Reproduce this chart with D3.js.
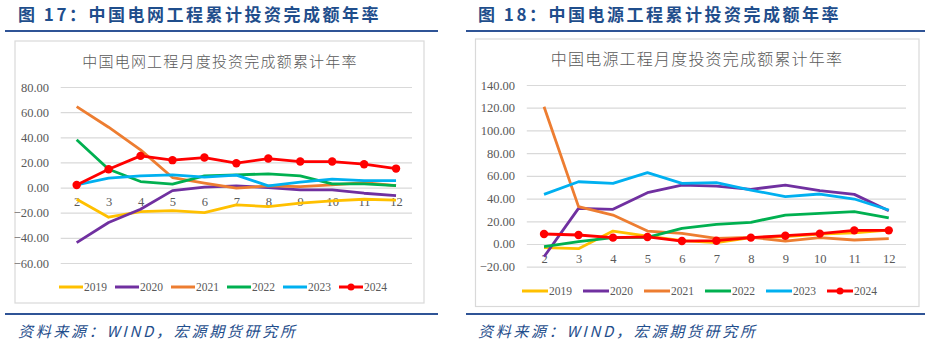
<!DOCTYPE html>
<html><head><meta charset="utf-8">
<script src="https://cdn.jsdelivr.net/npm/d3@7"></script>
<style>
html,body{margin:0;padding:0;background:#fff;}
svg{display:block;}
</style></head>
<body>
<script>
const months = [2,3,4,5,6,7,8,9,10,11,12];
const years = ["2019","2020","2021","2022","2023","2024"];
const colors = ["#FFC000","#7030A0","#ED7D31","#00B050","#00B0F0","#FF0000"];

// Figure 17: grid investment cumulative YoY
const grid2019 = [-9.3,-23.6,-19.1,-18.3,-19.9,-13.8,-15.1,-12.4,-10.6,-9.3,-10.0];
const grid2020 = [-43.8,-27.8,-17.2,-2.4,0.3,1.3,0.0,-1.8,-1.8,-4.5,-6.4];
const grid2021 = [64.4,48.0,30.0,8.0,3.5,-0.5,1.3,0.8,2.1,4.0,1.6];
const grid2022 = [38.0,14.6,4.8,2.7,9.3,10.1,10.9,9.3,2.9,2.9,1.6];
const grid2023 = [2.1,7.5,9.3,10.1,8.3,9.9,1.3,4.3,6.7,5.6,5.6];
const grid2024 = [2.1,14.6,25.2,21.8,23.9,19.4,23.1,20.7,20.7,18.6,15.1];
const gridTicks = [-60,-40,-20,0,20,40,60,80];

// Figure 18: power source investment cumulative YoY
const power2019 = [-3.2,-4.1,11.4,7.0,2.9,1.2,5.6,6.5,8.8,9.7,12.3];
const power2020 = [-11.2,31.4,30.5,45.2,51.9,51.0,48.1,51.9,46.9,43.7,29.3];
const power2021 = [120.9,32.9,25.5,11.4,9.4,5.0,5.9,2.6,5.6,3.5,4.7];
const power2022 = [-2.3,2.0,5.6,5.9,13.8,17.3,19.1,25.5,27.0,28.5,22.9];
const power2023 = [43.7,54.8,53.4,62.8,53.4,54.0,47.5,41.7,44.0,39.6,29.9];
const power2024 = [8.8,7.9,5.6,6.2,2.6,2.9,5.6,7.3,9.1,12.0,12.0];
const powerTicks = [-20,0,20,40,60,80,100,120,140];

const figTitles = ["图 17：中国电网工程累计投资完成额年率","图 18：中国电源工程累计投资完成额年率"];
const chartTitles = ["中国电网工程月度投资完成额累计年率","中国电源工程月度投资完成额累计年率"];
const sourceText = "资料来源：WIND，宏源期货研究所";

const svg = d3.select("body").append("svg").attr("width",929).attr("height",345);

const panels = [
  {series:[grid2019,grid2020,grid2021,grid2022,grid2023,grid2024], ticks:gridTicks,
   titleX:18, lineX:[5,438], box:[15,41,409,262], plotX:[60.7,412], plotY:[263,87],
   axisRight:49, chartTitle:[220,67,15], legendX:59, legendStep:56, legendLen:24, legendY:287},
  {series:[power2019,power2020,power2021,power2022,power2023,power2024], ticks:powerTicks,
   titleX:478, lineX:[466,925], box:[475.5,39,443.5,267.5], plotX:[526.8,906], plotY:[266.7,85],
   axisRight:515, chartTitle:[697,65,16], legendX:522, legendStep:61, legendLen:26, legendY:291}
];

const titleBlue = "#1F4E8C";
const textGray = "#595959";

panels.forEach((p,pi)=>{
  const g = svg.append("g");
  // figure title
  g.append("text").attr("x",p.titleX).attr("y",21)
    .attr("font-family","'Noto Sans CJK SC'").attr("font-weight","bold")
    .attr("font-size",17).attr("letter-spacing",2.5).attr("fill",titleBlue)
    .text(figTitles[pi]);
  g.append("line").attr("x1",p.lineX[0]).attr("x2",p.lineX[1]).attr("y1",31).attr("y2",31)
    .attr("stroke","#2F5496").attr("stroke-width",2.2);
  // chart box
  g.append("rect").attr("x",p.box[0]).attr("y",p.box[1]).attr("width",p.box[2]).attr("height",p.box[3])
    .attr("fill","#fff").attr("stroke","#D9D9D9").attr("stroke-width",1.2);
  // bottom line
  g.append("line").attr("x1",p.lineX[0]).attr("x2",p.lineX[1]).attr("y1",314).attr("y2",314)
    .attr("stroke","#2F5496").attr("stroke-width",2.2);
  g.append("text").attr("x",p.titleX).attr("y",337)
    .attr("font-family","'Noto Sans CJK SC'").attr("font-style","italic")
    .attr("font-size",15).attr("letter-spacing",2.7).attr("fill",titleBlue)
    .text(sourceText);

  // chart title
  g.append("text").attr("x",p.chartTitle[0]).attr("y",p.chartTitle[1]).attr("text-anchor","middle")
    .attr("font-family","'Noto Sans CJK SC'").attr("font-weight",300)
    .attr("font-size",p.chartTitle[2]).attr("letter-spacing",1.2).attr("fill",textGray)
    .text(chartTitles[pi]);

  const x = d3.scalePoint().domain(months).range(p.plotX).padding(0.5);
  const y = d3.scaleLinear().domain([d3.min(p.ticks),d3.max(p.ticks)]).range(p.plotY);

  // y axis with gridlines
  const yAxis = d3.axisLeft(y).tickValues(p.ticks).tickFormat(d3.format(".2f"))
    .tickSize(-(p.plotX[1]-p.plotX[0])).tickPadding(p.plotX[0]-p.axisRight);
  const ya = g.append("g").attr("transform",`translate(${p.plotX[0]},0)`).call(yAxis);
  ya.select(".domain").remove();
  ya.selectAll(".tick line").attr("stroke","#D9D9D9").attr("stroke-width",1.2);
  ya.selectAll(".tick text").attr("font-family","'Liberation Serif'").attr("font-size",12.5).attr("fill",textGray);

  // x axis labels at zero line
  const xAxis = d3.axisBottom(x).tickSize(0).tickPadding(10);
  const xa = g.append("g").attr("transform",`translate(0,${y(0)})`).call(xAxis);
  xa.select(".domain").remove();
  xa.selectAll(".tick text").attr("font-family","'Liberation Serif'").attr("font-size",12.5).attr("fill",textGray);

  const line = d3.line().x((d,i)=>x(months[i])).y(d=>y(d));
  p.series.forEach((s,si)=>{
    g.append("path").datum(s).attr("d",line).attr("fill","none")
      .attr("stroke",colors[si]).attr("stroke-width",2.8).attr("stroke-linejoin","round");
  });
  // markers for 2024
  g.selectAll(".dot"+pi).data(p.series[5]).enter().append("circle")
    .attr("cx",(d,i)=>x(months[i])).attr("cy",d=>y(d)).attr("r",4.2).attr("fill",colors[5]);

  // legend
  years.forEach((yr,i)=>{
    const lx = p.legendX + i*p.legendStep;
    g.append("line").attr("x1",lx).attr("x2",lx+p.legendLen).attr("y1",p.legendY).attr("y2",p.legendY)
      .attr("stroke",colors[i]).attr("stroke-width",3);
    if(i===5) g.append("circle").attr("cx",lx+p.legendLen/2).attr("cy",p.legendY).attr("r",3.5).attr("fill",colors[i]);
    g.append("text").attr("x",lx+p.legendLen+1).attr("y",p.legendY+4)
      .attr("font-family","'Liberation Serif'").attr("font-size",11.5).attr("fill",textGray)
      .text(yr);
  });
});
</script>
</body></html>
